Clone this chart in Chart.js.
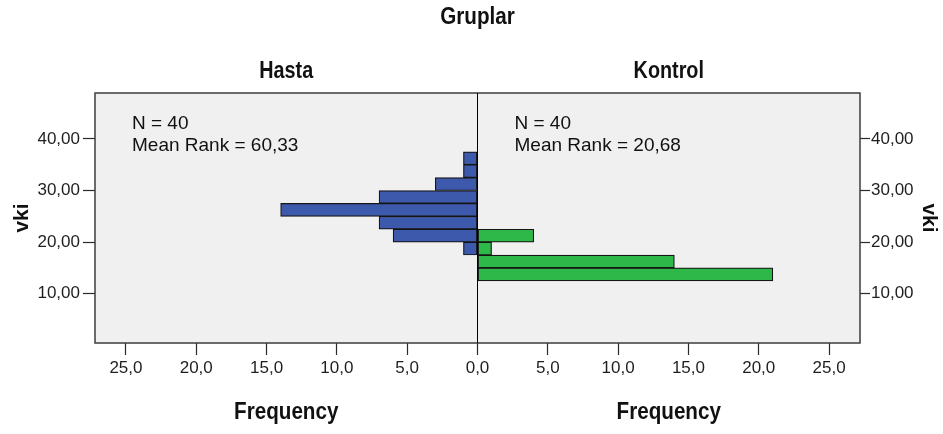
<!DOCTYPE html>
<html>
<head>
<meta charset="utf-8">
<script src="https://cdn.jsdelivr.net/npm/chart.js@4/dist/chart.umd.min.js"></script>
<style>
  html, body { margin: 0; padding: 0; background: #ffffff; }
  #wrap { width: 943px; height: 434px; position: relative; }
</style>
</head>
<body>
<div id="wrap"><canvas id="c" width="943" height="434"></canvas></div>
<script>
// vki histogram: bin lower/upper edges (bin width 2.5)
const binEdges = [12.5, 15, 17.5, 20, 22.5, 25, 27.5, 30, 32.5, 35, 37.5];
// frequencies per bin, one array per group
const hastaFreq   = [0, 0, 1, 6, 7, 14, 7, 3, 1, 1];
const kontrolFreq = [21, 14, 1, 4, 0, 0, 0, 0, 0, 0];

const groupNames = ['Hasta', 'Kontrol'];
const groupN = [40, 40];
const meanRanks = [60.33, 20.68];

// axis ticks
const vkiTicks = [10, 20, 30, 40];
const freqTicks = [-25, -20, -15, -10, -5, 0, 5, 10, 15, 20, 25];
const freqLimit = 27.2;
const vkiRange = [0.45, 48.9];

const FONT = "'Liberation Sans', Arial, sans-serif";
const commaNum = (v, d) => v.toFixed(d).replace('.', ',');

// Hasta grows to the left (negative side), Kontrol to the right
function binPoints(freq, side) {
  const pts = [];
  freq.forEach((f, i) => {
    if (f > 0) pts.push({ y: (binEdges[i] + binEdges[i + 1]) / 2, x: side * f });
  });
  return pts;
}

// condensed bold heading text
function narrowText(ctx, text, cx, baseline, size) {
  const sx = 0.86;
  ctx.save();
  ctx.font = 'bold ' + size + 'px ' + FONT;
  ctx.fillStyle = '#111111';
  ctx.textAlign = 'center';
  ctx.textBaseline = 'alphabetic';
  ctx.translate(cx, baseline);
  ctx.scale(sx, 1);
  ctx.fillText(text, 0, 0);
  ctx.restore();
}

const panelPlugin = {
  id: 'panelDecor',
  beforeDraw(chart) {
    const { ctx, chartArea: a } = chart;
    ctx.save();
    ctx.fillStyle = '#f0f0f0';
    ctx.fillRect(a.left, a.top, a.right - a.left, a.bottom - a.top);
    ctx.restore();
  },
  afterDraw(chart) {
    const { ctx, chartArea: a, scales: { x } } = chart;
    const x0 = x.getPixelForValue(0);

    ctx.save();
    // plot frame
    ctx.strokeStyle = '#3c3c3c';
    ctx.lineWidth = 1.5;
    ctx.strokeRect(a.left, a.top, a.right - a.left, a.bottom - a.top);
    // divider between the two groups
    ctx.strokeStyle = '#000000';
    ctx.lineWidth = 1;
    ctx.beginPath();
    ctx.moveTo(Math.floor(x0) + 0.5, a.top);
    ctx.lineTo(Math.floor(x0) + 0.5, a.bottom);
    ctx.stroke();
    ctx.restore();

    narrowText(ctx, 'Gruplar', (a.left + a.right) / 2, 24, 24);

    const panels = [[a.left, x0], [x0, a.right]];
    panels.forEach(([l, r], i) => {
      const cx = (l + r) / 2;
      narrowText(ctx, groupNames[i], cx, 78, 23);
      narrowText(ctx, 'Frequency', cx, 419, 24);

      ctx.save();
      ctx.font = '19px ' + FONT;
      ctx.fillStyle = '#111111';
      ctx.textAlign = 'left';
      ctx.textBaseline = 'alphabetic';
      ctx.fillText('N = ' + groupN[i], l + 37, a.top + 36);
      ctx.fillText('Mean Rank = ' + commaNum(meanRanks[i], 2), l + 37, a.top + 58);
      ctx.restore();
    });
  }
};

const tickFont = { family: FONT, size: 17 };
const vkiTitle = (pad) => ({
  display: true,
  text: 'vki',
  color: '#111111',
  font: { family: FONT, size: 21, weight: 'bold' },
  padding: { top: pad, bottom: 0 }
});
const setVkiTicks = s => { s.ticks = vkiTicks.map(v => ({ value: v })); };

new Chart(document.getElementById('c'), {
  type: 'bar',
  data: {
    datasets: [
      {
        label: groupNames[0],
        data: binPoints(hastaFreq, -1),
        backgroundColor: '#3d59ab',
        borderColor: '#151515',
        borderWidth: 1.2,
        borderSkipped: false,
        grouped: false,
        barPercentage: 1,
        categoryPercentage: 1
      },
      {
        label: groupNames[1],
        data: binPoints(kontrolFreq, 1),
        backgroundColor: '#2fb84a',
        borderColor: '#151515',
        borderWidth: 1.2,
        borderSkipped: false,
        grouped: false,
        barPercentage: 1,
        categoryPercentage: 1
      }
    ]
  },
  options: {
    indexAxis: 'y',
    responsive: false,
    animation: false,
    devicePixelRatio: 1,
    layout: { padding: { top: 93, left: 0, right: 0, bottom: 0 } },
    plugins: {
      legend: { display: false },
      title: { display: false },
      tooltip: { enabled: false }
    },
    scales: {
      x: {
        type: 'linear',
        position: 'bottom',
        min: -freqLimit,
        max: freqLimit,
        offset: false,
        afterBuildTicks: s => { s.ticks = freqTicks.map(v => ({ value: v })); },
        afterFit: s => { s.height = 91; },
        ticks: {
          callback: v => commaNum(Math.abs(v), 1),
          font: tickFont,
          color: '#1e1e1e',
          padding: 3,
          maxRotation: 0,
          autoSkip: false
        },
        grid: { offset: false, drawOnChartArea: false, drawTicks: true, tickLength: 12, tickColor: '#2a2a2a', tickWidth: 1.2 },
        border: { display: false }
      },
      y: {
        type: 'linear',
        position: 'left',
        min: vkiRange[0],
        max: vkiRange[1],
        offset: false,
        afterBuildTicks: setVkiTicks,
        afterFit: s => { s.width = 95; },
        title: vkiTitle(10),
        ticks: {
          callback: v => commaNum(v, 2),
          font: tickFont,
          color: '#1e1e1e',
          padding: 3,
          autoSkip: false
        },
        grid: { offset: false, drawOnChartArea: false, drawTicks: true, tickLength: 12, tickColor: '#2a2a2a', tickWidth: 1.2 },
        border: { display: false }
      },
      y2: {
        type: 'linear',
        axis: 'y',
        position: 'right',
        min: vkiRange[0],
        max: vkiRange[1],
        offset: false,
        afterBuildTicks: setVkiTicks,
        afterFit: s => { s.width = 83; },
        title: vkiTitle(2),
        ticks: {
          callback: v => commaNum(v, 2),
          font: tickFont,
          color: '#1e1e1e',
          padding: 1,
          autoSkip: false
        },
        grid: { offset: false, drawOnChartArea: false, drawTicks: true, tickLength: 10, tickColor: '#2a2a2a', tickWidth: 1.2 },
        border: { display: false }
      }
    }
  },
  plugins: [panelPlugin]
});
</script>
</body>
</html>
